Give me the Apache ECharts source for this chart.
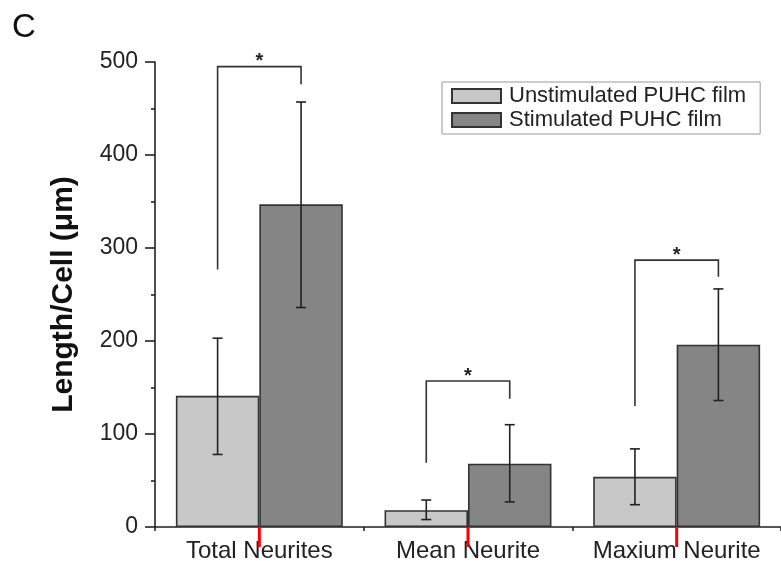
<!DOCTYPE html>
<html>
<head>
<meta charset="utf-8">
<script src="https://cdn.jsdelivr.net/npm/echarts@6/dist/echarts.min.js"></script>
<style>
  html, body { margin: 0; padding: 0; background: #ffffff; }
  #chart { width: 781px; height: 569px; }
</style>
</head>
<body>
<div id="chart"></div>
<script>
// data
var categories = ['Total Neurites', 'Mean Neurite', 'Maxium Neurite'];
var seriesNames = ['Unstimulated PUHC film', 'Stimulated PUHC film'];
var unstimMean = [141, 18, 54];
var unstimLow = [78, 8, 24];
var unstimHigh = [203, 29, 84];
var stimMean = [347, 68, 196];
var stimLow = [236, 27, 136];
var stimHigh = [457, 110, 256];
// significance brackets: top of bracket, bottom of left leg, bottom of right leg
var bracketTop = [495, 157, 287];
var bracketLeft = [277, 69, 130];
var bracketRight = [476, 138, 269];
var yTicks = [0, 100, 200, 300, 400, 500];
// x tick positions in category units: group centres and group boundaries
var centreTicks = [0, 1, 2];
var edgeTicks = [-0.5, 0.5, 1.5, 2.5];

var font = 'Liberation Sans, Arial, sans-serif';
var ink = '#222222';

// error bar rows: [category, low, high, side]  side -1 = left bar, 1 = right bar
var errData = [];
for (var i = 0; i < categories.length; i++) {
    errData.push([i, unstimLow[i], unstimHigh[i], -1]);
    errData.push([i, stimLow[i], stimHigh[i], 1]);
}
var bracketData = [];
for (var j = 0; j < categories.length; j++) {
    bracketData.push([j, bracketTop[j], bracketLeft[j], bracketRight[j]]);
}

var myChart = echarts.init(document.getElementById('chart'));

function renderErr(params, api) {
    var band = api.size([1, 0])[0];
    var off = api.value(3) * band * 0.2;
    var lo = api.coord([api.value(0), api.value(1)]);
    var hi = api.coord([api.value(0), api.value(2)]);
    var x = lo[0] + off;
    var cap = 5;
    var style = { stroke: ink, lineWidth: 1.6, fill: null };
    return {
        type: 'group',
        children: [
            { type: 'line', shape: { x1: x, y1: lo[1], x2: x, y2: hi[1] }, style: style },
            { type: 'line', shape: { x1: x - cap, y1: lo[1], x2: x + cap, y2: lo[1] }, style: style },
            { type: 'line', shape: { x1: x - cap, y1: hi[1], x2: x + cap, y2: hi[1] }, style: style }
        ]
    };
}

function renderBracket(params, api) {
    var band = api.size([1, 0])[0];
    var c = api.coord([api.value(0), api.value(1)]);
    var yl = api.coord([api.value(0), api.value(2)])[1];
    var yr = api.coord([api.value(0), api.value(3)])[1];
    var xl = c[0] - band * 0.2;
    var xr = c[0] + band * 0.2;
    return {
        type: 'group',
        children: [
            {
                type: 'polyline',
                shape: { points: [[xl, yl], [xl, c[1]], [xr, c[1]], [xr, yr]] },
                style: { stroke: '#333333', lineWidth: 1.6, fill: null }
            },
            {
                type: 'text',
                style: {
                    x: c[0], y: c[1] - 5, text: '*',
                    font: 'bold 20px ' + font, fill: ink,
                    align: 'center', verticalAlign: 'middle'
                }
            }
        ]
    };
}

// long tick under each group centre, hanging below the x axis
function renderCentreTick(params, api) {
    var p = api.coord([api.value(0), api.value(1)]);
    return {
        type: 'line',
        shape: { x1: p[0], y1: p[1], x2: p[0], y2: p[1] + 20 },
        style: { stroke: '#ff0000', lineWidth: 3 }
    };
}

var option = {
    animation: false,
    title: {
        text: 'C',
        left: 7,
        top: 6,
        textStyle: { fontFamily: font, fontSize: 33, fontWeight: 'normal', color: '#111' }
    },
    legend: {
        data: seriesNames,
        orient: 'vertical',
        left: 442,
        top: 82,
        icon: 'rect',
        itemWidth: 49,
        itemHeight: 14,
        itemGap: 2,
        padding: [3, 14, 3, 9],
        borderColor: '#999999',
        borderWidth: 1,
        textStyle: { fontFamily: font, fontSize: 22, color: ink, lineHeight: 16, padding: [0, 0, 0, 3] }
    },
    grid: {
        left: 155,
        right: -3,
        top: 62,
        bottom: 42
    },
    xAxis: [
        {
            type: 'category',
            data: categories,
            axisLine: { show: true, onZero: false, lineStyle: { color: ink, width: 1.6 } },
            axisTick: { show: false },
            axisLabel: { interval: 0, fontFamily: font, fontSize: 24, color: ink, margin: 12 }
        },
        {
            // tick-only axis: short ticks between the groups
            type: 'value',
            min: edgeTicks[0],
            max: edgeTicks[edgeTicks.length - 1],
            position: 'bottom',
            axisLine: { show: false, onZero: false },
            axisLabel: { show: false },
            splitLine: { show: false },
            axisTick: { show: true, customValues: edgeTicks, length: 4, lineStyle: { color: ink, width: 1.6 } }
        }
    ],
    yAxis: {
        type: 'value',
        min: yTicks[0],
        max: yTicks[yTicks.length - 1],
        interval: 100,
        name: 'Length/Cell (μm)',
        nameLocation: 'middle',
        nameGap: 76,
        nameTextStyle: { fontFamily: font, fontSize: 30, fontWeight: 'bold', color: '#111' },
        axisLine: { show: true, onZero: false, lineStyle: { color: ink, width: 1.6 } },
        axisTick: { show: true, length: 10, lineStyle: { color: ink, width: 1.6 } },
        minorTick: { show: true, splitNumber: 2, length: 4, lineStyle: { color: ink, width: 1.6 } },
        axisLabel: { fontFamily: font, fontSize: 23, color: ink, margin: 17 },
        splitLine: { show: false }
    },
    series: [
        {
            name: seriesNames[0],
            type: 'bar',
            data: unstimMean,
            barGap: '0%',
            barCategoryGap: '20%',
            itemStyle: { color: '#c8c8c8', borderColor: '#333333', borderWidth: 1.6 }
        },
        {
            name: seriesNames[1],
            type: 'bar',
            data: stimMean,
            barGap: '0%',
            barCategoryGap: '20%',
            itemStyle: { color: '#858585', borderColor: '#333333', borderWidth: 1.6 }
        },
        {
            type: 'custom',
            renderItem: renderErr,
            data: errData,
            z: 5,
            encode: { x: 0, y: [1, 2] }
        },
        {
            type: 'custom',
            renderItem: renderBracket,
            data: bracketData,
            z: 5,
            encode: { x: 0, y: [1, 2, 3] }
        },
        {
            type: 'custom',
            renderItem: renderCentreTick,
            data: centreTicks.map(function (v) { return [v, yTicks[0]]; }),
            clip: false,
            silent: true,
            z: 6,
            encode: { x: 0, y: 1 }
        }
    ]
};
myChart.setOption(option);
</script>
</body>
</html>
